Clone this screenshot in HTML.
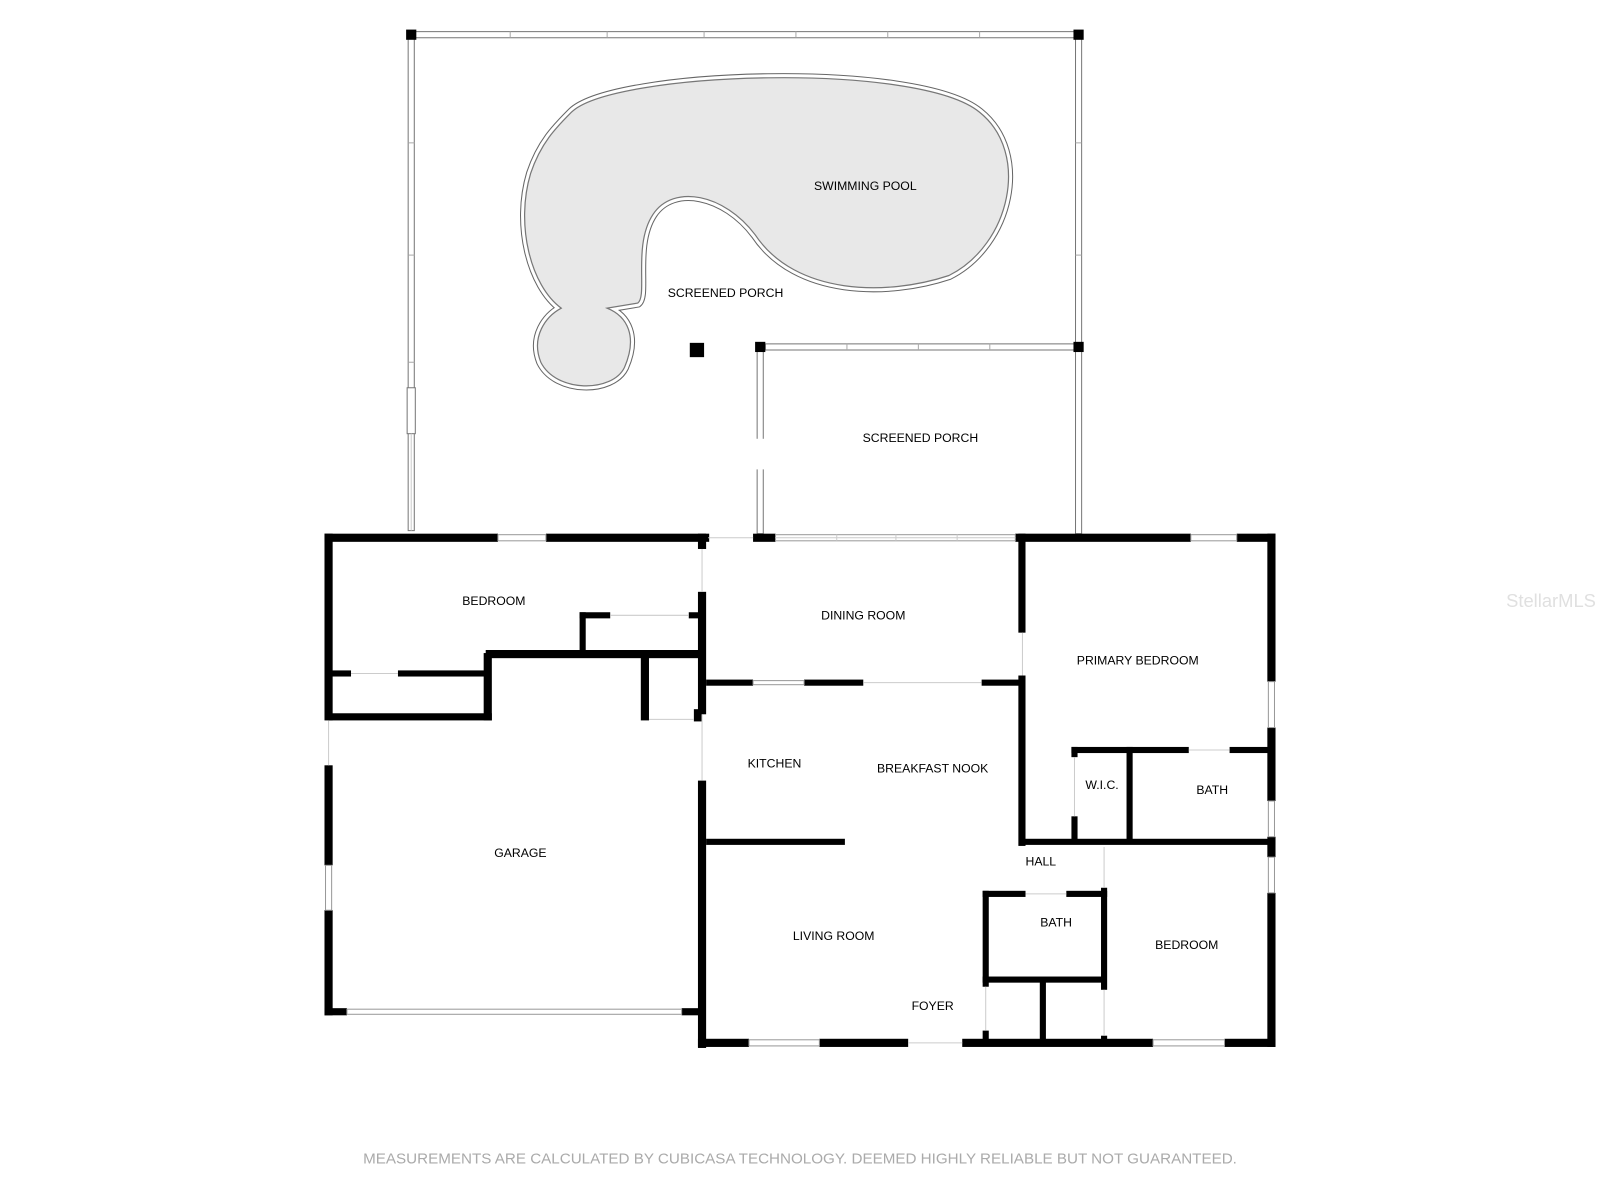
<!DOCTYPE html>
<html><head><style>html,body{margin:0;padding:0;background:#fff}svg{display:block}</style></head>
<body>
<svg width="1600" height="1200" viewBox="0 0 1568 1176" xmlns="http://www.w3.org/2000/svg" font-family="Liberation Sans, sans-serif" font-size="12" fill="#000">
<defs>
<path id="pool" d="M560,110 C600,70 900,60 960,110 C1010,150 990,240 930,270 C870,290 780,290 740,230 C710,190 660,180 640,210 C620,240 635,290 625,297 L595,302 C615,310 625,330 612,360 C600,385 545,385 530,355 C520,330 535,310 550,302 C520,280 505,220 520,170 C530,140 545,125 560,110 Z"/>
</defs>
<rect width="1568" height="1176" fill="#fff"/>
<!-- screen porch -->
<g stroke="#777" stroke-width="1" fill="#fff">
<rect x="406" y="31" width="650" height="6"/>
<rect x="400" y="37" width="6" height="483"/>
<rect x="1054" y="37" width="6" height="300"/>
<rect x="750" y="337" width="306" height="6"/>
<rect x="742" y="343" width="6" height="180"/>
<rect x="1054" y="343" width="6" height="180"/>
</g>
<g stroke="#aaa" stroke-width="1">
<line x1="500" y1="31" x2="500" y2="37"/><line x1="595" y1="31" x2="595" y2="37"/><line x1="690" y1="31" x2="690" y2="37"/><line x1="780" y1="31" x2="780" y2="37"/><line x1="870" y1="31" x2="870" y2="37"/><line x1="960" y1="31" x2="960" y2="37"/>
<line x1="400" y1="140" x2="406" y2="140"/><line x1="400" y1="250" x2="406" y2="250"/><line x1="400" y1="355" x2="406" y2="355"/>
<line x1="1054" y1="140" x2="1060" y2="140"/><line x1="1054" y1="250" x2="1060" y2="250"/>
<line x1="830" y1="337" x2="830" y2="343"/><line x1="900" y1="337" x2="900" y2="343"/><line x1="970" y1="337" x2="970" y2="343"/>
</g>
<rect x="398" y="29" width="10" height="10"/><rect x="1052" y="29" width="10" height="10"/><rect x="1052" y="335" width="10" height="10"/><rect x="740" y="335" width="10" height="10"/>
<rect x="399" y="380" width="8" height="45" fill="#fff" stroke="#777"/>
<rect x="741" y="430" width="8" height="30" fill="#fff"/>
<rect x="676" y="336" width="14" height="14"/>
<!-- pool -->
<use href="#pool" fill="none" stroke="#666" stroke-width="9"/>
<use href="#pool" fill="none" stroke="#fff" stroke-width="7"/>
<use href="#pool" fill="#e8e8e8" stroke="#777" stroke-width="1.2"/>
<!-- thick walls -->
<g fill="#000">
<rect x="318" y="523" width="170" height="8"/><rect x="535" y="523" width="160" height="8"/>
<rect x="318" y="523" width="8" height="183"/><rect x="318" y="750" width="8" height="98"/><rect x="318" y="892" width="8" height="103"/>
<rect x="318" y="988" width="22" height="7"/><rect x="668" y="988" width="22" height="7"/>
<rect x="684" y="523" width="8" height="15"/><rect x="684" y="580" width="8" height="120"/><rect x="684" y="765" width="8" height="262"/>
<rect x="684" y="1018" width="50" height="8"/><rect x="803" y="1018" width="87" height="8"/><rect x="943" y="1018" width="187" height="8"/><rect x="1200" y="1018" width="50" height="8"/>
<rect x="1242" y="523" width="8" height="145"/><rect x="1242" y="713" width="8" height="72"/><rect x="1242" y="820" width="8" height="20"/><rect x="1242" y="875" width="8" height="151"/>
<rect x="738" y="523" width="22" height="8"/><rect x="995" y="523" width="172" height="8"/><rect x="1212" y="523" width="38" height="8"/>
<rect x="998" y="523" width="7" height="97"/><rect x="998" y="662" width="7" height="167"/>
<rect x="692" y="666" width="46" height="6"/><rect x="788" y="666" width="58" height="6"/><rect x="962" y="666" width="40" height="6"/>
<rect x="692" y="822" width="136" height="6"/>
<rect x="1002" y="822" width="248" height="6"/>
<rect x="1050" y="732" width="115" height="6"/><rect x="1205" y="732" width="40" height="6"/>
<rect x="1050" y="732" width="6" height="10"/><rect x="1050" y="800" width="6" height="26"/>
<rect x="1104" y="732" width="6" height="94"/>
<rect x="1079" y="870" width="6" height="100"/><rect x="1079" y="1015" width="6" height="8"/>
<rect x="963" y="873" width="42" height="6"/><rect x="1045" y="873" width="40" height="6"/>
<rect x="963" y="873" width="6" height="94"/><rect x="963" y="957" width="120" height="6"/>
<rect x="1019" y="960" width="6" height="62"/><rect x="963" y="1010" width="6" height="12"/>
<rect x="322" y="657" width="22" height="6"/><rect x="390" y="657" width="90" height="6"/>
<rect x="474" y="640" width="8" height="66"/><rect x="322" y="699" width="160" height="7"/>
<rect x="476" y="637" width="212" height="8"/>
<rect x="568" y="600" width="6" height="40"/><rect x="568" y="600" width="30" height="6"/><rect x="675" y="600" width="13" height="6"/>
<rect x="628" y="640" width="8" height="66"/><rect x="680" y="695" width="8" height="12"/>
</g>
<g fill="#fff" stroke="#999" stroke-width="1">
<rect x="488" y="524" width="47" height="6"/><rect x="760" y="524" width="235" height="6"/><rect x="1167" y="524" width="45" height="6"/>
<rect x="319" y="848" width="6" height="44"/><rect x="1243" y="668" width="6" height="45"/><rect x="1243" y="785" width="6" height="35"/><rect x="1243" y="840" width="6" height="35"/>
<rect x="734" y="1019" width="69" height="6"/><rect x="1130" y="1019" width="70" height="6"/>
<rect x="738" y="667" width="50" height="4"/>
<rect x="340" y="989" width="328" height="5"/>
</g>
<g stroke="#ccc" stroke-width="1">
<line x1="760" y1="527" x2="995" y2="527"/><line x1="820" y1="524" x2="820" y2="530"/><line x1="878" y1="524" x2="878" y2="530"/><line x1="938" y1="524" x2="938" y2="530"/>
<line x1="344" y1="660" x2="390" y2="660"/><line x1="598" y1="603" x2="675" y2="603"/><line x1="636" y1="705" x2="680" y2="705"/>
<line x1="688" y1="538" x2="688" y2="580"/><line x1="1002" y1="620" x2="1002" y2="662"/><line x1="1165" y1="735" x2="1205" y2="735"/>
<line x1="1053" y1="742" x2="1053" y2="800"/><line x1="1082" y1="830" x2="1082" y2="870"/><line x1="1082" y1="970" x2="1082" y2="1015"/>
<line x1="1005" y1="876" x2="1045" y2="876"/><line x1="966" y1="967" x2="966" y2="1010"/><line x1="890" y1="1022" x2="943" y2="1022"/>
<line x1="322" y1="706" x2="322" y2="750"/><line x1="688" y1="700" x2="688" y2="765"/><line x1="846" y1="669" x2="962" y2="669"/>
<line x1="694" y1="527" x2="738" y2="527"/><line x1="403" y1="425" x2="403" y2="520"/>
</g>
<g text-anchor="middle" font-size="12">
<text x="848" y="186">SWIMMING POOL</text>
<text x="711" y="291">SCREENED PORCH</text>
<text x="902" y="433">SCREENED PORCH</text>
<text x="484" y="593">BEDROOM</text>
<text x="846" y="607">DINING ROOM</text>
<text x="1115" y="651">PRIMARY BEDROOM</text>
<text x="759" y="752">KITCHEN</text>
<text x="914" y="757">BREAKFAST NOOK</text>
<text x="1080" y="773">W.I.C.</text>
<text x="1188" y="778">BATH</text>
<text x="510" y="840">GARAGE</text>
<text x="1020" y="848">HALL</text>
<text x="1035" y="908">BATH</text>
<text x="817" y="921">LIVING ROOM</text>
<text x="1163" y="930">BEDROOM</text>
<text x="914" y="990">FOYER</text>
</g>
<text x="1520" y="595" text-anchor="middle" font-size="18" fill="#e0e0e0">StellarMLS</text>
<text x="784" y="1140" text-anchor="middle" font-size="14.9" fill="#aaa">MEASUREMENTS ARE CALCULATED BY CUBICASA TECHNOLOGY. DEEMED HIGHLY RELIABLE BUT NOT GUARANTEED.</text>
</svg>
</body></html>
